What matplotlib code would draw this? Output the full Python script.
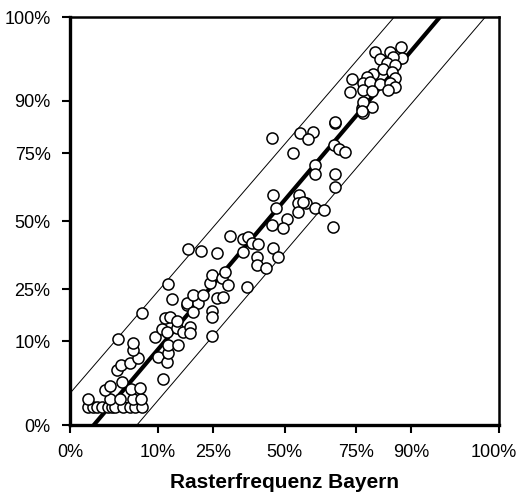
import matplotlib
matplotlib.use("Agg")
import matplotlib.pyplot as plt
import matplotlib.transforms as mtransforms
import numpy as np

# Rasterfrequenz Bayern (x) vs. other frequency (y), in percent
x_vals = [0.43, 0.71, 0.97, 1.37, 1.92, 2.35, 2.69, 3.72, 4.75, 5.56, 6.79,
          0.43, 2.13, 3.31, 5.23, 6.6,
          1.63, 2.13, 3.58, 4.91, 6.43, 11.15,
          2.93, 3.45, 4.75, 6.08, 10.03, 12.09, 12.33,
          5.23, 5.23, 3.06, 6.79,
          9.38, 10.92, 12.09, 14.58, 16.16, 18.09, 18.09,
          11.62, 12.82, 14.58, 12.33, 14.84, 24.69,
          17.26, 13.31, 17.26, 20.4, 18.94, 21.9, 26.28, 28.24,
          12.33, 18.94, 24.69, 24.69,
          24.06, 24.69, 27.91, 28.9, 29.9, 36.43,
          17.54, 21.29, 26.28, 30.58, 35.05, 36.78, 38.2, 40.35,
          35.05, 40.0, 40.0, 43.25, 45.8, 47.62,
          61.1, 61.1, 45.8, 55.32, 54.95, 57.84, 46.9, 54.95, 61.1, 64.25,
          50.92, 45.44, 49.46,
          76.88, 79.9, 77.19, 68.07, 45.44, 55.68, 60.39, 58.55, 53.1,
          67.72, 69.43, 71.44, 68.07, 68.07, 56.77, 67.37,
          80.78, 84.9, 87.66, 87.91, 82.18, 85.67, 84.1, 86.19, 83.03,
          85.41, 80.2, 78.41, 86.19, 73.71, 77.19, 79.32, 82.18, 84.9,
          86.19, 73.07, 77.19, 79.9, 84.37, 77.19, 76.88, 68.07]
y_vals = [0.48, 0.48, 0.48, 0.48, 0.48, 0.48, 0.48, 0.48, 0.48, 0.48, 0.48,
          1.0, 1.0, 1.0, 1.0, 1.0,
          1.8, 2.24, 2.72, 1.91, 2.01, 3.1,
          4.42, 5.24, 5.59, 6.51, 6.7, 5.77, 7.49,
          8.1, 9.64, 10.57, 17.47,
          11.05, 13.05, 12.28, 13.31, 12.28, 13.58, 12.02,
          16.03, 16.31, 15.19, 9.19, 9.19, 11.29,
          19.86, 21.74, 20.48, 20.48, 23.03, 23.03, 22.06, 22.38,
          26.68, 17.77, 18.06, 16.31,
          27.03, 29.81, 28.76, 30.87, 26.34, 25.66,
          39.3, 38.55, 37.81, 44.24, 43.09, 43.86, 41.58, 41.19,
          38.18, 36.32, 33.37, 32.3, 39.67, 36.32,
          70.92, 67.7, 59.94, 59.94, 56.88, 56.88, 54.97, 53.48, 54.97, 54.23,
          50.77, 48.46, 47.31,
          88.23, 88.47, 86.96, 84.26, 79.82, 81.36, 81.65, 79.53, 75.0,
          77.62, 76.31, 75.33, 67.7, 62.94, 57.26, 47.68,
          98.19, 98.19, 98.67, 97.54, 97.42, 97.65, 96.9, 96.63, 96.05,
          95.59, 95.26, 94.75, 94.58, 94.4, 93.68, 93.86, 93.49, 93.68,
          92.91, 91.89, 92.31, 92.1, 92.31, 89.66, 87.46, 84.53]

# fit line and band: x where each line meets y=0 / y=100 (upper band starts on left edge)
fit_x = [0.76, 95.4]
fit_y = [0.0, 100.0]
upper_x = [0.0, 86.0]
upper_y = [1.48, 100.0]
lower_x = [5.89, 99.75]
lower_y = [0.0, 100.0]

ticks = [0, 10, 25, 50, 75, 90, 100]
tick_labels = ["0%", "10%", "25%", "50%", "75%", "90%", "100%"]


def fwd(p):
    p = np.clip(np.asarray(p, dtype=float), 0, 100)
    return np.arcsin(np.sqrt(p / 100.0))


def inv(u):
    u = np.clip(np.asarray(u, dtype=float), 0, np.pi / 2)
    return 100.0 * np.sin(u) ** 2


plt.rcParams['font.family'] = ['Liberation Sans', 'DejaVu Sans']

fig = plt.figure(figsize=(5.17, 4.93), dpi=100)
ax = fig.add_axes([70 / 517, 68 / 493, 429 / 517, 408 / 493])
ax.set_xscale('function', functions=(fwd, inv))
ax.set_yscale('function', functions=(fwd, inv))

ax.plot(upper_x, upper_y, color='black', lw=0.7, zorder=2)
ax.plot(lower_x, lower_y, color='black', lw=0.7, zorder=2)
ax.plot(fit_x, fit_y, color='black', lw=3, zorder=2)
ax.scatter(x_vals, y_vals, s=64, facecolor='white', edgecolor='black',
           linewidth=1.1, zorder=3, clip_on=False)

ax.set_xlim(0, 100)
ax.set_ylim(0, 100)
ax.set_xticks(ticks)
ax.set_xticklabels(tick_labels)
ax.set_yticks(ticks)
ax.set_yticklabels(tick_labels)
ax.minorticks_off()
ax.tick_params(axis='both', direction='out', length=6, width=1.5,
               labelsize=13, colors='black')
ax.tick_params(axis='x', pad=7.5)
ax.tick_params(axis='y', pad=8)

# nudge the "100%" label a bit left so it stays on the canvas
last = ax.get_xticklabels()[-1]
last.set_transform(last.get_transform() +
                   mtransforms.ScaledTranslation(-5 / 100, 0, fig.dpi_scale_trans))

for side in ['left', 'bottom']:
    ax.spines[side].set_linewidth(2.4)
for side in ['top', 'right']:
    ax.spines[side].set_linewidth(1.8)

ax.set_xlabel("Rasterfrequenz Bayern", fontsize=15, fontweight='bold', labelpad=9)

fig.savefig("out.png", dpi=100)
